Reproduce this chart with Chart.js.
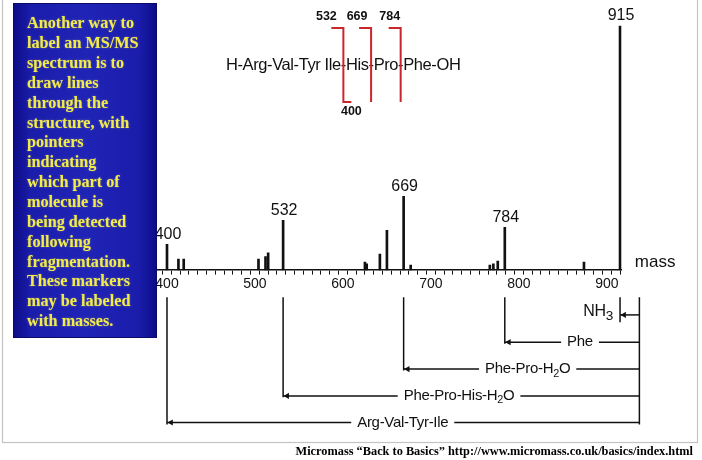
<!DOCTYPE html>
<html><head><meta charset="utf-8">
<script src="https://cdn.jsdelivr.net/npm/chart.js@4.4.1/dist/chart.umd.min.js"></script>
<style>html,body{margin:0;padding:0;background:#fff;overflow:hidden}</style>
</head><body>
<canvas id="c" width="702" height="460"></canvas>
<script>
// ---- spectrum data (mass, relative intensity %) ----
const peakMasses      = [400, 413, 419, 504, 512, 515, 532, 625, 627, 642, 650, 669, 677, 767, 771, 776, 784, 874, 915];
const peakIntensities = [10.5, 4.5, 4.5, 4.5, 5.5, 7, 20.4, 3.3, 2.5, 6.5, 16.3, 30.2, 2, 2, 2.5, 3.7, 17.5, 3.3, 100];
const labeledPeaks    = [400, 532, 669, 784, 915];
const majorTicks      = [400, 500, 600, 700, 800, 900];
const minorTickStep   = 10;

// ---- fragment ladder under the axis ----
const ladderMasses   = [400, 532, 669, 784, 915];
const ladderLevels   = [-62.5, -51.6, -40.6, -29.6, -18.4];
const ladderBottoms  = [-63.3, -52.2, -41.2, -30.2, -21.4];
const ladderLabels   = ['Arg-Val-Tyr-Ile', 'Phe-Pro-His-H_2O', 'Phe-Pro-H_2O', 'Phe', 'NH_3'];
const ladderLabelAt  = [668, 732, 810, 869.5, 907];
const ladderTop      = -11.2;
const precursorMass  = 937;

// ---- structure annotation ----
const formula = 'H-Arg-Val-Tyr Ile-His-Pro-Phe-OH';
const cutAfter = ['H-Arg-Val-Tyr Ile', 'H-Arg-Val-Tyr Ile-His', 'H-Arg-Val-Tyr Ile-His-Pro'];
const cutLabels = ['532', '669', '784'];
const cutBottomLabel = '400';

const noteLines = ['Another way to','label an MS/MS','spectrum is to','draw lines','through the','structure, with','pointers','indicating','which part of','molecule is','being detected','following','fragmentation.','These markers','may be labeled','with masses.'];
const footer = 'Micromass \u201cBack to Basics\u201d http://www.micromass.co.uk/basics/index.html';

const SANS = '"Liberation Sans", Arial, sans-serif';
const SERIF = '"Liberation Serif", "Times New Roman", serif';
const INK = '#111';

const tickValues = [];
for (let v = 390; v <= 910; v += minorTickStep) tickValues.push(v);

function richText(ctx, text, x, y, size, align, subScale, draw) {
  const parts = [];
  text.split(/(_\d)/).forEach(p => {
    if (!p) return;
    if (p[0] === '_') parts.push({t: p.slice(1), sub: true}); else parts.push({t: p, sub: false});
  });
  let w = 0;
  parts.forEach(p => { ctx.font = (p.sub ? size * subScale : size) + 'px ' + SANS; p.w = ctx.measureText(p.t).width; w += p.w; });
  let sx = align === 'center' ? x - w / 2 : (align === 'right' ? x - w : x);
  const start = sx;
  if (draw) {
    ctx.textAlign = 'left'; ctx.textBaseline = 'middle';
    parts.forEach(p => {
      ctx.font = (p.sub ? size * subScale : size) + 'px ' + SANS;
      ctx.fillText(p.t, sx, p.sub ? y + size * 0.3 : y);
      sx += p.w;
    });
  }
  return {left: start, width: w};
}

const overlay = {
  id: 'overlay',
  beforeDraw(chart) {
    const ctx = chart.ctx;
    ctx.save();
    ctx.fillStyle = '#fff';
    ctx.fillRect(0, 0, chart.width, chart.height);
    ctx.strokeStyle = '#c4c4c4'; ctx.lineWidth = 1.2;
    ctx.strokeRect(2.5, -2, 695, 444.5);
    ctx.restore();
  },
  afterDatasetsDraw(chart) {
    const ctx = chart.ctx, xs = chart.scales.x, ys = chart.scales.y;
    ctx.save();
    ctx.fillStyle = INK;
    // peak labels
    ctx.font = '16px ' + SANS; ctx.textAlign = 'center'; ctx.textBaseline = 'bottom';
    labeledPeaks.forEach(m => {
      const i = peakMasses.indexOf(m);
      ctx.fillText(String(m), xs.getPixelForValue(m) + 1, ys.getPixelForValue(peakIntensities[i]) - 2);
    });
    // axis title
    ctx.font = '17px ' + SANS; ctx.textAlign = 'left'; ctx.textBaseline = 'middle';
    ctx.fillText('mass', xs.right + 13, ys.getPixelForValue(0) - 8);
    // ladder labels with white gaps
    ctx.letterSpacing = '-0.3px';
    ladderLabels.forEach((lab, i) => {
      const isNH3 = i === ladderLabels.length - 1;
      const size = isNH3 ? 16 : 15;
      const sub = isNH3 ? 0.85 : 0.72;
      const x = xs.getPixelForValue(ladderLabelAt[i]);
      const y = ys.getPixelForValue(ladderLevels[i]) - (isNH3 ? 3 : 0);
      const box = richText(ctx, lab, x, y, size, isNH3 ? 'right' : 'center', sub, false);
      if (!isNH3) {
        ctx.fillStyle = '#fff';
        ctx.fillRect(box.left - 6, y - 8, box.width + 12, 16);
      }
      ctx.fillStyle = INK;
      richText(ctx, lab, x, y, size, isNH3 ? 'right' : 'center', sub, true);
    });
    ctx.letterSpacing = '0px';
    ctx.restore();
  },
  afterDraw(chart) {
    const ctx = chart.ctx;
    ctx.save();
    // structure formula
    const fx = 226, fy = 65, fsize = 16.5;
    ctx.font = fsize + 'px ' + SANS; ctx.letterSpacing = '-0.4px';
    ctx.fillStyle = INK; ctx.textAlign = 'left'; ctx.textBaseline = 'middle';
    ctx.fillText(formula, fx, fy);
    const hy = ctx.measureText('-').width / 2;
    const cuts = cutAfter.map(s => fx + ctx.measureText(s).width + hy);
    ctx.letterSpacing = '0px';
    // red brackets
    ctx.strokeStyle = '#c8282c'; ctx.lineWidth = 2; ctx.lineJoin = 'miter';
    const topY = 28, botY = 102, arm = 12;
    cuts.forEach((cx, i) => {
      ctx.beginPath();
      ctx.moveTo(cx - arm, topY); ctx.lineTo(cx, topY); ctx.lineTo(cx, botY);
      if (i === 0) ctx.lineTo(cx + 8, botY);
      ctx.stroke();
    });
    ctx.font = 'bold 12.5px ' + SANS; ctx.textAlign = 'center'; ctx.textBaseline = 'middle'; ctx.fillStyle = INK;
    const labelShift = [-17, -14, -11];
    cuts.forEach((cx, i) => ctx.fillText(cutLabels[i], cx + labelShift[i], 17));
    ctx.fillText(cutBottomLabel, cuts[0] + 8, 112);

    // blue note box
    const bx = 13, by = 3, bw = 144, bh = 335;
    const g = ctx.createLinearGradient(bx, 0, bx + bw, 0);
    g.addColorStop(0, '#0c0c86'); g.addColorStop(0.12, '#1a1caa'); g.addColorStop(0.5, '#2024b6');
    g.addColorStop(0.88, '#1a1caa'); g.addColorStop(1, '#0c0c86');
    ctx.fillStyle = g; ctx.fillRect(bx, by, bw, bh);
    ctx.strokeStyle = '#0a0a6a'; ctx.lineWidth = 1; ctx.strokeRect(bx + 0.5, by + 0.5, bw - 1, bh - 1);
    ctx.font = 'bold 16.2px ' + SERIF; ctx.textAlign = 'left'; ctx.textBaseline = 'middle';
    ctx.fillStyle = '#f2ec48';
    ctx.shadowColor = 'rgba(255,250,120,0.35)'; ctx.shadowBlur = 2;
    noteLines.forEach((t, i) => ctx.fillText(t, 27, 24 + i * 19.87));
    ctx.shadowBlur = 0;

    // footer
    ctx.fillStyle = '#000';
    let fs = 11.5;
    ctx.font = 'bold ' + fs + 'px ' + SERIF;
    const w = ctx.measureText(footer).width;
    fs = fs * 398 / w;
    ctx.font = 'bold ' + fs.toFixed(2) + 'px ' + SERIF;
    ctx.textAlign = 'right'; ctx.textBaseline = 'middle';
    ctx.fillText(footer, 693, 452);
    ctx.restore();
  }
};

const datasets = [{
  type: 'bar',
  data: peakMasses.map((m, i) => ({x: m, y: peakIntensities[i]})),
  backgroundColor: INK, borderWidth: 0, barThickness: 2, order: 1
}];
const lineStyle = {type: 'line', borderColor: INK, borderWidth: 1.5, pointRadius: 0, fill: false, clip: false, tension: 0};
ladderMasses.forEach((m, i) => {
  datasets.push(Object.assign({}, lineStyle, {data: [{x: m, y: ladderTop}, {x: m, y: ladderBottoms[i]}]}));
  datasets.push(Object.assign({}, lineStyle, {data: [{x: m, y: ladderLevels[i]}, {x: precursorMass, y: ladderLevels[i]}]}));
});
datasets.push(Object.assign({}, lineStyle, {data: [{x: precursorMass, y: ladderTop}, {x: precursorMass, y: ladderBottoms[0]}]}));
datasets.push({
  type: 'line', showLine: false, clip: false,
  data: ladderMasses.map((m, i) => ({x: m + 4.6, y: ladderLevels[i]})),
  pointStyle: 'triangle', rotation: -90, pointRadius: 3.6,
  pointBackgroundColor: INK, pointBorderColor: INK, pointBorderWidth: 0
});

new Chart(document.getElementById('c'), {
  type: 'bar',
  data: {datasets},
  options: {
    responsive: false, animation: false, events: [],
    layout: {padding: {left: 153.8, right: 80.2, top: 11.4, bottom: 31.4}},
    plugins: {legend: {display: false}, tooltip: {enabled: false}},
    scales: {
      x: {
        type: 'linear', min: 385, max: 917, position: {y: 0}, offset: false,
        afterBuildTicks: s => { s.ticks = tickValues.map(v => ({value: v})); },
        ticks: {autoSkip: false, maxRotation: 0, minRotation: 0, padding: 2, color: INK,
                font: {family: SANS, size: 14},
                callback: v => majorTicks.includes(v) ? String(v) : ''},
        grid: {display: true, drawOnChartArea: false, drawTicks: true, tickLength: 4, color: INK, lineWidth: 1},
        border: {display: true, color: INK, width: 1.6}
      },
      y: {type: 'linear', min: -65, max: 106, display: false}
    }
  },
  plugins: [overlay]
});
</script>
</body></html>
